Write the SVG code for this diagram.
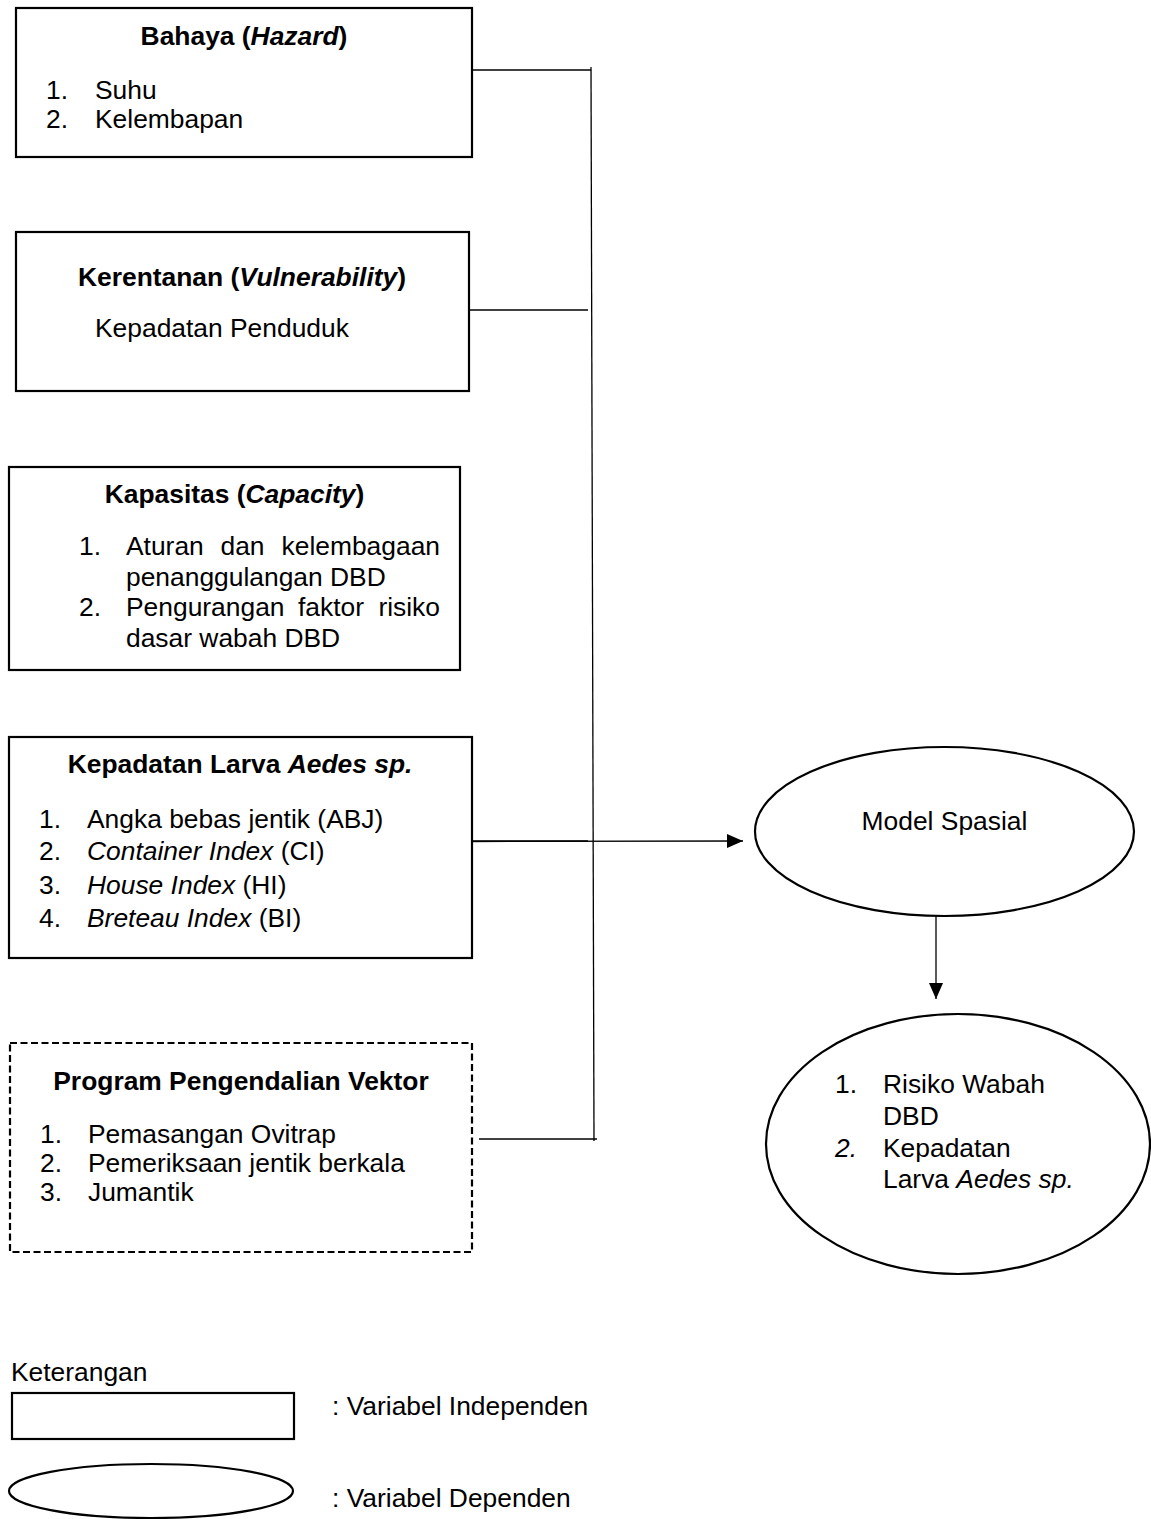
<svg xmlns="http://www.w3.org/2000/svg" width="1151" height="1519" viewBox="0 0 1151 1519">
<style>
.box{fill:#fff;stroke:#000;stroke-width:2.2}
.dash{fill:#fff;stroke:#000;stroke-width:2.2;stroke-dasharray:7 3.5}
.t{font-family:"Liberation Sans",Arial,Helvetica,sans-serif;font-size:26.4px;fill:#000}
.b{font-weight:bold}
.i{font-style:italic}
.mid{text-anchor:middle}
.end{text-anchor:end}
.conn{stroke:#000;stroke-width:1.3;fill:none}
</style>
<defs>
<marker id="ah" markerUnits="userSpaceOnUse" markerWidth="16" markerHeight="14" refX="16" refY="7" orient="auto">
<path d="M0,0 L16,7 L0,14 z" fill="#000"/>
</marker>
</defs>
<rect width="1151" height="1519" fill="#fff"/>

<g id="connectors">
<line class="conn" x1="472" y1="70" x2="591" y2="70"/>
<line class="conn" x1="469" y1="310" x2="588" y2="310"/>
<line class="conn" x1="591" y1="67" x2="594" y2="1141"/>
<line class="conn" x1="468" y1="841" x2="588" y2="841"/>
<line class="conn" x1="470" y1="841.5" x2="743" y2="841" marker-end="url(#ah)"/>
<line class="conn" x1="479" y1="1139" x2="597" y2="1139"/>
<line class="conn" x1="936" y1="916" x2="936" y2="999" marker-end="url(#ah)"/>
</g>

<g id="node-bahaya">
<rect class="box" x="16" y="8" width="456" height="149"/>
<text class="t b mid" x="244" y="45">Bahaya (<tspan class="i">Hazard</tspan>)</text>
<text class="t" x="46" y="99">1.</text><text class="t" x="95" y="99">Suhu</text>
<text class="t" x="46" y="128">2.</text><text class="t" x="95" y="128">Kelembapan</text>
</g>

<g id="node-kerentanan">
<rect class="box" x="16" y="232" width="453" height="159"/>
<text class="t b mid" x="242" y="286">Kerentanan (<tspan class="i">Vulnerability</tspan>)</text>
<text class="t" x="95" y="337">Kepadatan Penduduk</text>
</g>

<g id="node-kapasitas">
<rect class="box" x="9" y="467" width="451" height="203"/>
<text class="t b mid" x="234.5" y="503">Kapasitas (<tspan class="i">Capacity</tspan>)</text>
<text class="t" x="79" y="555">1.</text>
<text class="t" x="126" y="555">Aturan</text><text class="t" x="220.5" y="555">dan</text><text class="t end" x="440" y="555">kelembagaan</text>
<text class="t" x="126" y="586">penanggulangan DBD</text>
<text class="t" x="79" y="616">2.</text>
<text class="t" x="126" y="616">Pengurangan</text><text class="t" x="298" y="616">faktor</text><text class="t end" x="440" y="616">risiko</text>
<text class="t" x="126" y="647">dasar wabah DBD</text>
</g>

<g id="node-larva">
<rect class="box" x="9" y="737" width="463" height="221"/>
<text class="t b mid" x="240" y="773">Kepadatan Larva <tspan class="i">Aedes sp.</tspan></text>
<text class="t" x="39" y="828">1.</text><text class="t" x="87" y="828">Angka bebas jentik (ABJ)</text>
<text class="t" x="39" y="860">2.</text><text class="t" x="87" y="860"><tspan class="i">Container Index</tspan> (CI)</text>
<text class="t" x="39" y="894">3.</text><text class="t" x="87" y="894"><tspan class="i">House Index</tspan> (HI)</text>
<text class="t" x="39" y="927">4.</text><text class="t" x="87" y="927"><tspan class="i">Breteau Index</tspan> (BI)</text>
</g>

<g id="node-program">
<rect class="dash" x="10" y="1043" width="462" height="209"/>
<text class="t b mid" x="241" y="1090">Program Pengendalian Vektor</text>
<text class="t" x="40" y="1143">1.</text><text class="t" x="88" y="1143">Pemasangan Ovitrap</text>
<text class="t" x="40" y="1172">2.</text><text class="t" x="88" y="1172">Pemeriksaan jentik berkala</text>
<text class="t" x="40" y="1201">3.</text><text class="t" x="88" y="1201">Jumantik</text>
</g>

<g id="node-model">
<ellipse class="box" cx="944.5" cy="831.5" rx="189.5" ry="84.5"/>
<text class="t mid" x="944.5" y="830">Model Spasial</text>
</g>

<g id="node-risiko">
<ellipse class="box" cx="958" cy="1144" rx="192" ry="130"/>
<text class="t" x="835" y="1093">1.</text><text class="t" x="883" y="1093">Risiko Wabah</text>
<text class="t" x="883" y="1125">DBD</text>
<text class="t i" x="835" y="1157">2.</text><text class="t" x="883" y="1157">Kepadatan</text>
<text class="t" x="883" y="1188">Larva <tspan class="i">Aedes sp.</tspan></text>
</g>

<g id="legend">
<text class="t" x="11" y="1381">Keterangan</text>
<rect class="box" x="12" y="1393" width="282" height="46"/>
<text class="t" x="332" y="1415">: Variabel Independen</text>
<ellipse class="box" cx="151" cy="1491" rx="142" ry="27"/>
<text class="t" x="332" y="1507">: Variabel Dependen</text>
</g>
</svg>
